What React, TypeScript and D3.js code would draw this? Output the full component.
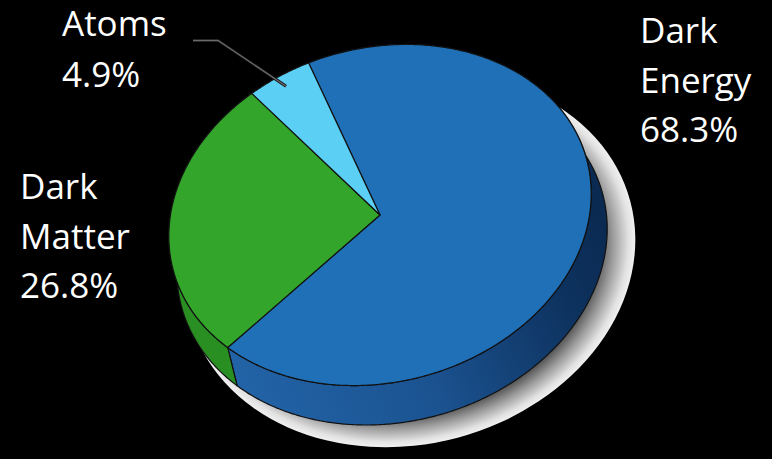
import React from "react";
import * as d3 from "d3";

const categories = ["Dark Energy", "Dark Matter", "Atoms"];
const values = [68.3, 26.8, 4.9];
const valueLabels = ["68.3%", "26.8%", "4.9%"];
const nameLines = [["Dark", "Energy"], ["Dark", "Matter"], ["Atoms"]];
const topColors = ["#2070b8", "#33a52b", "#5ccff5"];
const sideColors = ["url(#sideBlue)", "#2a8f22", "#3fa9cc"];

const W = 772;
const H = 459;
const ROT = (-15 * Math.PI) / 180;
const topE = { cx: 380, cy: 215, rx: 214, ry: 167 };
const botE = { cx: 392, cy: 250, rx: 218, ry: 171.5 };
const shadowE = { cx: 410, cy: 260, rx: 228, ry: 184 };
const START = (352.06 * Math.PI) / 180;

type E = { cx: number; cy: number; rx: number; ry: number };

function pt(e: E, t: number, r = 1): [number, number] {
  const xp = e.rx * r * Math.cos(t);
  const yp = e.ry * r * Math.sin(t);
  const c = Math.cos(ROT);
  const s = Math.sin(ROT);
  return [e.cx + xp * c - yp * s, e.cy + xp * s + yp * c];
}

function samples(a0: number, a1: number): number[] {
  const n = Math.max(2, Math.ceil(Math.abs(a1 - a0) / 0.01));
  return d3.range(n + 1).map((i) => a0 + ((a1 - a0) * i) / n);
}

const line = d3.line<[number, number]>();

export default function App() {
  const pie = d3
    .pie<number>()
    .sort(null)
    .startAngle(START)
    .endAngle(START + 2 * Math.PI);
  const arcs = pie(values);

  const slices = arcs.map((a, i) => {
    const t0 = a.startAngle - Math.PI / 2;
    const t1 = a.endAngle - Math.PI / 2;
    const ts = samples(t0, t1);
    const topPts: [number, number][] = [[topE.cx, topE.cy], ...ts.map((t) => pt(topE, t))];
    const sidePts: [number, number][] = [
      ...ts.map((t) => pt(topE, t)),
      ...ts.slice().reverse().map((t) => pt(botE, t)),
    ];
    return {
      key: categories[i],
      top: line(topPts) + "Z",
      side: line(sidePts) + "Z",
      mid: (t0 + t1) / 2,
    };
  });

  const atomsMid = slices[2].mid;
  const leaderEnd = pt(topE, atomsMid, 0.93);
  const leader: [number, number][] = [[193, 40.5], [218, 40.5], leaderEnd];

  const fontStyle = {
    fontFamily: "'Open Sans', 'DejaVu Sans', sans-serif",
    fontSize: 35,
    fill: "#ffffff",
  } as const;

  const labelPos = [
    { x: 640, y: 43 },
    { x: 20, y: 199 },
    { x: 62, y: 36 },
  ];
  const lineGap = 49.5;
  const atomsGap = 51;

  return (
    <div style={{ position: "absolute", left: 0, top: 0 }}>
      <svg width={W} height={H} style={{ display: "block" }}>
        <defs>
          <radialGradient id="shg" cx="0.5" cy="0.5" r="0.5">
            <stop offset="0" stopColor="#222" />
            <stop offset="0.84" stopColor="#555" />
            <stop offset="0.9" stopColor="#9a9a9a" />
            <stop offset="0.97" stopColor="#e2e2e2" />
            <stop offset="1" stopColor="#f0f0f0" />
          </radialGradient>
          <linearGradient id="sideBlue" gradientUnits="userSpaceOnUse" x1="190" y1="400" x2="600" y2="220">
            <stop offset="0" stopColor="#2468ad" />
            <stop offset="0.5" stopColor="#1b5391" />
            <stop offset="0.85" stopColor="#0e3360" />
            <stop offset="1" stopColor="#0a2a52" />
          </linearGradient>
        </defs>
        <rect x={0} y={0} width={W} height={H} fill="#000" />
        <ellipse
          cx={shadowE.cx}
          cy={shadowE.cy}
          rx={shadowE.rx}
          ry={shadowE.ry}
          transform={`rotate(${(ROT * 180) / Math.PI} ${shadowE.cx} ${shadowE.cy})`}
          fill="url(#shg)"
        />
        <g stroke="#111" strokeWidth={1.2} strokeLinejoin="round">
          {slices.map((s, i) => (
            <path key={"side-" + s.key} d={s.side} fill={sideColors[i]} />
          ))}
          {slices.map((s, i) => (
            <path key={"top-" + s.key} d={s.top} fill={topColors[i]} />
          ))}
        </g>
        <path d={line(leader) || ""} fill="none" stroke="#111" strokeWidth={3} />
        <path d={line(leader) || ""} fill="none" stroke="#6a6a6a" strokeWidth={1.4} />
        {nameLines.map((lines, i) => {
          const gap = i === 2 ? atomsGap : lineGap;
          const all = [...lines, valueLabels[i]];
          return (
            <text key={"lab-" + categories[i]} {...fontStyle}>
              {all.map((l, j) => (
                <tspan key={j} x={labelPos[i].x} y={labelPos[i].y + j * gap}>
                  {l}
                </tspan>
              ))}
            </text>
          );
        })}
      </svg>
    </div>
  );
}
